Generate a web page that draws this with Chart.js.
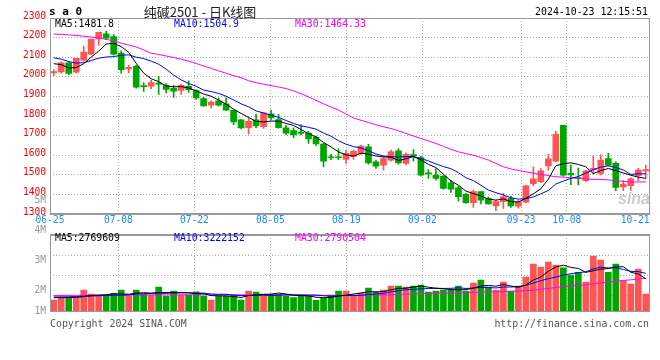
<!DOCTYPE html>
<html><head><meta charset="utf-8">
<script src="https://cdn.jsdelivr.net/npm/chart.js@4.4.1/dist/chart.umd.min.js"></script>
<style>
html,body{margin:0;padding:0;background:#fff;}
#wrap{position:relative;width:660px;height:360px;background:#fff;}
canvas{position:absolute;left:0;top:0;}
</style></head><body>
<div id="wrap"><canvas id="price" width="660" height="360"></canvas><canvas id="vol" width="660" height="360"></canvas></div>
<script>
// ---------- data ----------
const dates = ['06-25','06-26','06-27','06-28',
 '07-01','07-02','07-03','07-04','07-05','07-08','07-09','07-10','07-11','07-12','07-15','07-16','07-17','07-18','07-19','07-22','07-23','07-24','07-25','07-26','07-29','07-30','07-31',
 '08-01','08-02','08-05','08-06','08-07','08-08','08-09','08-12','08-13','08-14','08-15','08-16','08-19','08-20','08-21','08-22','08-23','08-26','08-27','08-28','08-29','08-30',
 '09-02','09-03','09-04','09-05','09-06','09-09','09-10','09-11','09-12','09-13','09-18','09-19','09-20','09-23','09-24','09-25','09-26','09-27','09-30',
 '10-08','10-09','10-10','10-11','10-14','10-15','10-16','10-17','10-18','10-21','10-22','10-23'];
const openP = [2020,2025,2071,2024,2085,2116,2193,2219,2205,2121,
 2040,2053,1955,1952,1968,1955,1941,1931,1952,1930,
 1889,1855,1877,1862,1829,1781,1740,1780,1745,1811,
 1782,1740,1725,1714,1713,1693,1657,1590,1590,1578,
 1594,1609,1643,1566,1549,1575,1622,1558,1602,1588,
 1508,1498,1493,1459,1434,1400,1358,1414,1380,1341,
 1363,1380,1340,1360,1455,1465,1545,1570,1753,1507,
 1486,1470,1528,1507,1583,1558,1438,1444,1495,1520];
const highP = [2036,2077,2076,2094,2156,2192,2227,2233,2215,2131,
 2060,2058,1971,1982,2002,1966,1956,1962,1980,1934,
 1895,1878,1893,1893,1830,1782,1792,1810,1818,1830,
 1808,1752,1740,1756,1722,1698,1660,1605,1632,1626,
 1628,1651,1655,1575,1592,1626,1634,1612,1629,1595,
 1527,1532,1495,1473,1443,1405,1422,1414,1388,1371,
 1405,1392,1371,1448,1541,1532,1605,1722,1753,1549,
 1534,1523,1596,1602,1609,1566,1470,1485,1533,1550];
const lowP = [2004,2018,2010,2018,2080,2114,2160,2190,2110,2018,
 2020,1942,1925,1940,1910,1918,1895,1910,1920,1885,
 1850,1840,1850,1829,1756,1734,1707,1740,1737,1780,
 1738,1706,1690,1703,1660,1650,1540,1577,1577,1558,
 1578,1604,1554,1532,1524,1570,1554,1550,1570,1493,
 1482,1473,1426,1410,1366,1354,1333,1351,1350,1317,
 1329,1334,1330,1356,1443,1460,1524,1566,1493,1450,
 1449,1465,1505,1500,1545,1419,1419,1420,1470,1482];
const closeP = [2027,2071,2017,2094,2126,2192,2227,2197,2115,2037,
 2048,1947,1950,1970,1962,1935,1927,1956,1934,1892,
 1851,1871,1855,1830,1770,1739,1773,1750,1816,1790,
 1740,1712,1703,1711,1683,1658,1570,1587,1587,1610,
 1620,1646,1561,1544,1583,1617,1561,1604,1598,1498,
 1505,1482,1431,1427,1388,1358,1414,1371,1351,1363,
 1388,1341,1362,1444,1480,1520,1582,1706,1498,1500,
 1481,1520,1533,1575,1549,1435,1453,1480,1524,1526];
const ma5 = [2067,2062,2045,2047,2067,2100,2131,2167,2171,2154,
 2125,2069,2019,1990,1975,1953,1949,1950,1943,1929,
 1912,1901,1881,1860,1835,1813,1793,1772,1770,1774,
 1774,1762,1752,1731,1710,1693,1665,1642,1617,1602,
 1595,1610,1605,1596,1591,1590,1573,1582,1593,1576,
 1553,1537,1503,1469,1447,1417,1404,1392,1376,1371,
 1377,1363,1361,1380,1403,1429,1478,1546,1557,1561,
 1553,1541,1506,1522,1532,1522,1509,1498,1488,1482];
const ma10 = [2097,2090,2078,2070,2072,2083,2095,2101,2103,2110,
 2112,2100,2093,2080,2064,2039,2009,1984,1966,1952,
 1932,1925,1915,1901,1882,1862,1847,1826,1815,1804,
 1793,1777,1762,1750,1742,1733,1713,1697,1674,1656,
 1644,1637,1623,1606,1596,1592,1591,1593,1594,1583,
 1571,1555,1542,1531,1511,1485,1470,1447,1422,1409,
 1397,1383,1376,1378,1387,1403,1420,1453,1468,1482,
 1491,1509,1526,1539,1546,1537,1525,1502,1505,1505];
const ma30 = [2218,2216,2214,2211,2207,2203,2198,2191,2183,2172,
 2162,2152,2137,2120,2114,2106,2098,2090,2080,2068,
 2055,2043,2030,2018,2006,1995,1980,1970,1962,1955,
 1948,1940,1928,1914,1897,1880,1862,1846,1830,1810,
 1790,1778,1767,1755,1745,1736,1724,1711,1698,1685,
 1673,1660,1645,1630,1617,1608,1600,1588,1575,1558,
 1541,1530,1522,1515,1508,1502,1496,1490,1488,1485,
 1482,1478,1477,1476,1474,1470,1466,1464,1463,1464];
// volume, millions of lots
const volume = [0.94,1.14,1.14,1.14,1.79,1.45,1.28,1.28,1.51,1.79,
 1.28,1.79,1.42,1.37,2.05,1.28,1.71,1.37,1.37,1.65,
 1.28,0.94,1.28,1.28,1.37,0.94,1.71,1.62,1.45,1.45,
 1.45,1.28,1.14,1.28,1.28,0.91,1.08,1.37,1.71,1.71,
 1.37,1.54,1.97,1.62,1.79,2.14,2.14,2.05,2.14,2.22,
 1.62,1.71,1.79,1.79,2.14,1.71,2.39,2.65,2.05,1.79,
 2.48,1.71,2.14,2.91,4.02,3.76,4.19,3.93,3.70,3.08,
 3.30,2.48,4.70,4.36,3.30,4.02,2.59,2.31,3.59,1.45];
const volMa5 = [1.14,1.14,1.15,1.16,1.23,1.33,1.36,1.39,1.46,1.46,
 1.43,1.53,1.56,1.53,1.58,1.58,1.57,1.56,1.56,1.48,
 1.48,1.32,1.30,1.29,1.23,1.16,1.32,1.38,1.42,1.43,
 1.54,1.45,1.35,1.32,1.29,1.18,1.14,1.18,1.27,1.36,
 1.45,1.54,1.66,1.64,1.66,1.81,1.93,1.95,2.05,2.14,
 2.03,1.95,1.90,1.83,1.81,1.83,1.96,2.14,2.19,2.12,
 2.27,2.14,2.03,2.21,2.65,2.91,3.40,3.76,3.92,3.73,
 3.64,3.30,3.45,3.58,3.63,3.77,3.79,3.32,3.16,2.77];
const volMa10 = [1.20,1.21,1.22,1.24,1.26,1.28,1.31,1.33,1.35,1.35,
 1.38,1.45,1.48,1.50,1.52,1.51,1.55,1.56,1.55,1.53,
 1.53,1.45,1.43,1.43,1.36,1.32,1.32,1.34,1.36,1.33,
 1.35,1.39,1.37,1.37,1.36,1.36,1.30,1.27,1.30,1.33,
 1.32,1.34,1.42,1.46,1.51,1.63,1.74,1.81,1.85,1.90,
 1.92,1.94,1.93,1.94,1.98,1.93,1.96,2.02,2.01,1.97,
 2.05,2.05,2.09,2.20,2.39,2.59,2.77,2.90,3.07,3.19,
 3.28,3.35,3.61,3.75,3.68,3.71,3.55,3.39,3.37,3.22];
const volMa30 = [1.33,1.33,1.34,1.34,1.34,1.35,1.35,1.35,1.36,1.36,
 1.36,1.37,1.37,1.37,1.38,1.38,1.38,1.38,1.39,1.39,
 1.39,1.39,1.39,1.39,1.38,1.38,1.38,1.38,1.38,1.38,
 1.38,1.37,1.37,1.36,1.36,1.35,1.34,1.33,1.33,1.34,
 1.34,1.35,1.36,1.37,1.38,1.40,1.42,1.44,1.46,1.48,
 1.50,1.51,1.53,1.54,1.56,1.57,1.59,1.61,1.63,1.64,
 1.66,1.68,1.70,1.73,1.79,1.85,1.93,2.01,2.08,2.14,
 2.19,2.24,2.33,2.41,2.47,2.55,2.61,2.67,2.74,2.79];
const dateTickLabels = ['06-25','07-08','07-22','08-05','08-19','09-02','09-23','10-08','10-21'];
const volAxisLabels = ['5M','4M','3M','2M','1M'];
const priceMaLabels = ['MA5:1481.8','MA10:1504.9','MA30:1464.33'];
const volMaLabels = ['MA5:2769609','MA10:3222152','MA30:2790504'];
const titleText = '纯碱2501 - 日K线图';
const symbolText = 's a 0';
const timeText = '2024-10-23 12:15:51';
const copyText = 'Copyright 2024 SINA.COM';
const urlText = 'http://finance.sina.com.cn';

// ---------- style ----------
const UP = '#ff5454', DOWN = '#00a600';
const MONO = 'DejaVu Sans Mono';
const GRID = '#ababab';
const candleColor = closeP.map((c,i) => c >= openP[i] ? UP : DOWN);
const lastGridIdx = dates.indexOf('10-21');
const gridColorFn = c => (c.tick && (c.tick.value === 0 || c.tick.value === lastGridIdx)) ? 'rgba(0,0,0,0)' : GRID;
const SINA_DAY = 7.6; // pixel spacing Sina uses for its date grid

function frame(chart, thickBottom, thickTop){
  const {ctx, chartArea:a} = chart;
  const L = Math.round(a.left), T = Math.round(a.top), R = Math.floor(a.right), B = Math.round(a.bottom);
  ctx.save(); ctx.fillStyle = '#999';
  ctx.fillRect(L, T - (thickTop?1:0), R - L + 1, thickTop?2:1);
  ctx.fillRect(L, T, 1, B - T);
  ctx.fillRect(R, T, 1, B - T);
  ctx.fillRect(L, B - (thickBottom?1:0), R - L + 1, thickBottom?2:1);
  ctx.restore();
}
function txt(ctx, s, x, y, font, color, align){
  ctx.font = font; ctx.fillStyle = color; ctx.textAlign = align || 'left'; ctx.textBaseline = 'middle';
  ctx.fillText(s, x, y);
}

const pricePlugin = {id:'pricePlugin', afterDraw(chart){
  frame(chart, true, false);
  const ctx = chart.ctx; ctx.save();
  txt(ctx, symbolText, 49, 12, 'bold 11px "'+MONO+'"', '#000');
  txt(ctx, titleText, 200, 12, '13px "Noto Sans CJK SC"', '#222', 'center');
  txt(ctx, timeText, 648, 12, '9.9px "'+MONO+'"', '#000', 'right');
  txt(ctx, priceMaLabels[0], 55, 24, '9.8px "'+MONO+'"', '#000');
  txt(ctx, priceMaLabels[1], 174, 24, '9.8px "'+MONO+'"', '#0000ff');
  txt(ctx, priceMaLabels[2], 295, 24, '9.8px "'+MONO+'"', '#ff00ff');
  txt(ctx, 'sina', 634, 200, 'italic bold 16px "Liberation Sans"', 'rgba(160,160,160,0.55)', 'center');
  ctx.restore();
}};
const volPlugin = {id:'volPlugin', afterDraw(chart){
  frame(chart, false, true);
  const ctx = chart.ctx; ctx.save();
  const ys = [200, 230, 260, 290.5, 311];
  volAxisLabels.forEach((s,i) => txt(ctx, s, 46, ys[i], '9.6px "'+MONO+'"', '#999', 'right'));
  txt(ctx, volMaLabels[0], 55, 238.5, '9.8px "'+MONO+'"', '#000');
  txt(ctx, volMaLabels[1], 174, 238.5, '9.8px "'+MONO+'"', '#0000ff');
  txt(ctx, volMaLabels[2], 295, 238.5, '9.8px "'+MONO+'"', '#ff00ff');
  txt(ctx, copyText, 50, 324, '9.9px "'+MONO+'"', '#555');
  txt(ctx, urlText, 649, 324, '9.9px "'+MONO+'"', '#555', 'right');
  ctx.restore();
}};

const lineDs = (data, color) => ({type:'line', data, borderColor:color, borderWidth:1, pointRadius:0, tension:0, order:0, xAxisID:'x', yAxisID:'y'});
const dateAxis = (showLabels) => ({
  type:'linear', axis:'x', position:'bottom', min:0, max:599.5/SINA_DAY, offset:false, bounds:'data',
  afterBuildTicks: s => { s.ticks = dateTickLabels.map(d => ({value: dates.indexOf(d)})); },
  afterFit: s => { s.height = showLabels ? 12 : 0; },
  ticks:{display:showLabels, autoSkip:false, maxRotation:0, padding:1, color:'#1a8cff', font:{family:MONO, size:9.6}, callback: v => dates[v]},
  grid:{color:gridColorFn, drawTicks:false, lineWidth:1, offset:false},
  border:{display:false, dash:[1,2]}
});

new Chart(document.getElementById('price'), {
  type:'bar',
  data:{labels:dates, datasets:[
    lineDs(ma5, '#000000'),
    lineDs(ma10, '#0000ff'),
    lineDs(ma30, '#ff00ff'),
    {data: openP.map((o,i) => [o, closeP[i]]), backgroundColor:candleColor, barThickness:6, minBarLength:1, grouped:false, order:1, xAxisID:'x', yAxisID:'y'},
    {data: lowP.map((l,i) => [l, highP[i]]), backgroundColor:candleColor, barThickness:1, grouped:false, order:2, xAxisID:'x', yAxisID:'y'}
  ]},
  options:{
    responsive:false, animation:false, events:[],
    layout:{padding:{left:0, top:18, right:10.5, bottom:134}},
    plugins:{legend:{display:false}, tooltip:{enabled:false}},
    scales:{
      x:{type:'category', display:false, offset:true},
      xg: dateAxis(true),
      y:{min:1300, max:2300, afterFit: s => { s.width = 50; },
         ticks:{stepSize:100, color:'#ff0000', padding:4, labelOffset:-2, font:{family:MONO, size:9.6}, callback: v => String(v)},
         grid:{color:GRID, drawTicks:false}, border:{display:false, dash:[1,2]}}
    }
  },
  plugins:[pricePlugin]
});

const volMax = 6.5;
new Chart(document.getElementById('vol'), {
  type:'bar',
  data:{labels:dates, datasets:[
    lineDs(volMa5, '#000000'),
    lineDs(volMa10, '#0000ff'),
    lineDs(volMa30, '#ff00ff'),
    {data: volume, backgroundColor:candleColor, barThickness:6, grouped:false, order:1, xAxisID:'x', yAxisID:'y'}
  ]},
  options:{
    responsive:false, animation:false, events:[],
    layout:{padding:{left:0, top:235, right:10.5, bottom:49}},
    plugins:{legend:{display:false}, tooltip:{enabled:false}},
    scales:{
      x:{type:'category', display:false, offset:true},
      xg: dateAxis(false),
      y:{min:0, max:volMax, afterFit: s => { s.width = 50; },
         afterBuildTicks: s => { s.ticks = [1,2,3].map(k => ({value: volMax * (1 - k*20/76)})); },
         ticks:{display:false}, grid:{color:GRID, drawTicks:false}, border:{display:false, dash:[1,2]}}
    }
  },
  plugins:[volPlugin]
});
</script>
</body></html>
